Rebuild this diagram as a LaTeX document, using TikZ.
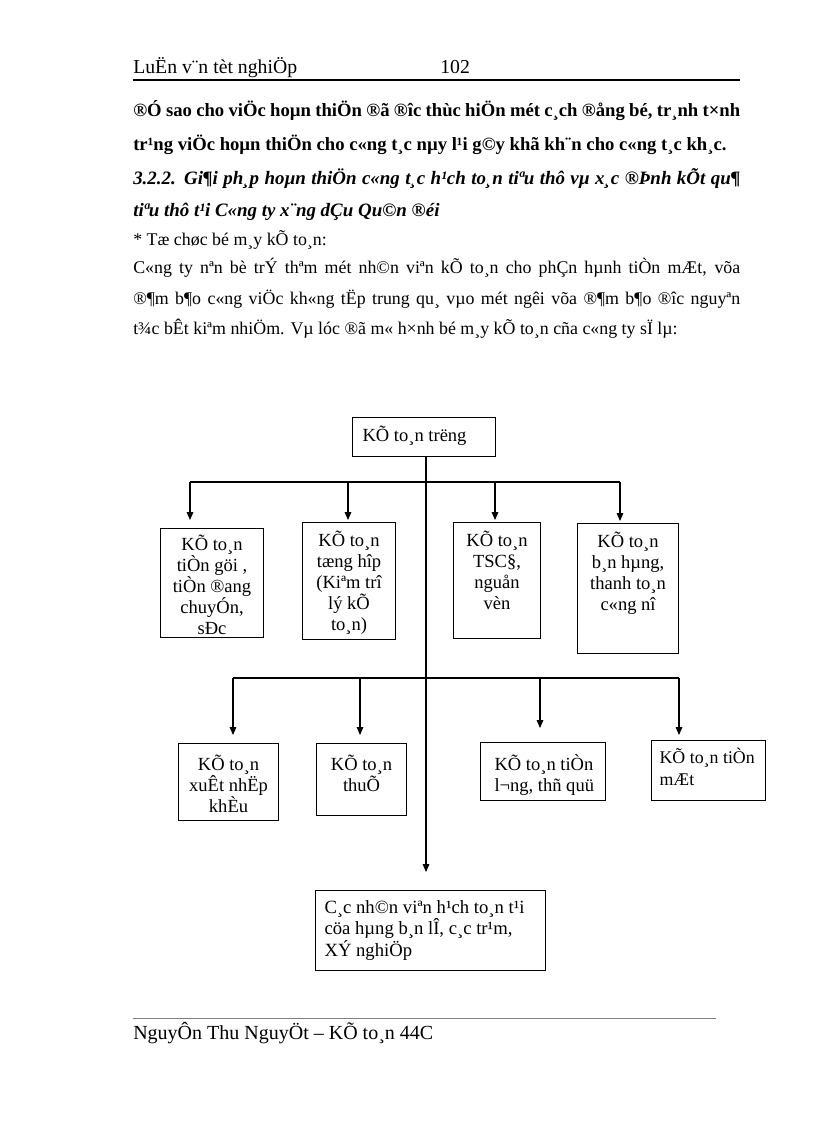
\documentclass[tikz,border=0pt]{standalone}
\usepackage{fontspec}
\setmainfont{Liberation Serif}
\usetikzlibrary{arrows.meta}
\newlength\pxu \setlength\pxu{0.75pt}
\newcommand\bxt[3]{\parbox[c][#2\pxu][t]{#1\pxu}{#3}}
\newcommand\jline[1]{\makebox[607\pxu][s]{#1}}
\tikzset{
  txt/.style={anchor=base west, inner sep=0pt, font=\fontsize{14.8}{17}\selectfont},
  bld/.style={anchor=base west, inner sep=0pt, font=\fontsize{14}{17}\selectfont\bfseries},
  hdg/.style={anchor=base west, inner sep=0pt, font=\fontsize{14.2}{17}\selectfont\bfseries\itshape},
  thin/.style={anchor=base west, inner sep=0pt, font=\fontsize{13.4}{16}\selectfont},
  bx/.style={draw, line width=0.8pt, inner sep=0pt, anchor=north west},
  bxf/.style={font=\fontsize{13.9}{15.75}\selectfont},
  ln/.style={line width=0.8pt},
  arr/.style={line width=0.8pt, -{Triangle[length=6pt,width=5pt]}}
}
\begin{document}
\begin{tikzpicture}[x=0.75pt,y=-0.75pt]
\fill[white] (0,0) rectangle (816,1123);
\useasboundingbox (0,0) rectangle (816,1123);
% header
\node[txt] (hd) at (133,74) {LuËn v¨n tèt nghiÖp};
\node[txt] (pg) at (440,74) {102};
\coordinate (hrl) at (133,80); \coordinate (hrr) at (740,80);
\draw[line width=1.5pt] (hrl) -- (hrr);
% body
\node[bld] (l1) at (133,117) {\jline{®Ó sao cho viÖc hoµn thiÖn ®ã ®îc  thùc hiÖn mét c¸ch ®ång  bé, tr¸nh t×nh}};
\node[bld] (l2) at (133,151) {tr¹ng viÖc hoµn thiÖn cho c«ng t¸c nµy l¹i g©y khã kh¨n cho c«ng t¸c kh¸c.};
\node[hdg] (h1) at (133,185) {\jline{3.2.2. Gi¶i ph¸p hoµn thiÖn c«ng t¸c h¹ch to¸n tiªu thô vµ x¸c ®Þnh kÕt qu¶}};
\node[hdg] (h2) at (133,217) {tiªu thô t¹i C«ng ty x¨ng dÇu Qu©n ®éi};
\node[thin] (st) at (133,245) {* Tæ  chøc bé m¸y kÕ to¸n:};
\node[thin] (p1) at (133,273) {\jline{C«ng  ty nªn bè trÝ thªm mét nh©n viªn kÕ to¸n  cho phÇn hµnh  tiÒn mÆt,  võa}};
\node[thin] (p2) at (133,304) {\jline{®¶m b¶o c«ng viÖc kh«ng  tËp trung qu¸ vµo  mét ngêi  võa ®¶m b¶o ®îc  nguyªn}};
\node[thin] (p3) at (133,334) {t¾c bÊt kiªm nhiÖm. Vµ lóc ®ã m« h×nh bé m¸y kÕ to¸n cña c«ng ty sÏ lµ:};
% diagram
\node[bx,bxf] (top) at (352,417) {\bxt{143}{39}{\vspace*{8\pxu}\hspace*{10\pxu}KÕ to¸n trëng}};
\node[bx,bxf] (k1) at (160,528) {\bxt{103}{109}{\centering\vspace*{6.5\pxu}KÕ to¸n\\ tiÒn göi ,\\ tiÒn ®ang\\ chuyÓn,\\ sÐc}};
\node[bx,bxf] (k2) at (302,522) {\bxt{93}{117}{\centering\vspace*{8.5\pxu}KÕ to¸n\\ tæng hîp\\ (Kiªm trî\\ lý kÕ\\ to¸n)}};
\node[bx,bxf] (k3) at (453,522) {\bxt{87}{116}{\centering\vspace*{8.5\pxu}KÕ to¸n\\ TSC§,\\ nguån\\ vèn}};
\node[bx,bxf] (k4) at (577,523) {\bxt{101}{130}{\centering\vspace*{8\pxu}KÕ to¸n\\ b¸n hµng,\\ thanh to¸n\\ c«ng nî}};
\node[bx,bxf] (k5) at (178,743) {\bxt{100}{77}{\centering\vspace*{11.5\pxu}KÕ to¸n\\ xuÊt nhËp\\ khÈu}};
\node[bx,bxf] (k6) at (316,743) {\bxt{90}{72}{\centering\vspace*{11.5\pxu}KÕ to¸n\\ thuÕ}};
\node[bx,bxf] (k7) at (480,742) {\bxt{125}{58}{\vspace*{12\pxu}\hspace*{14\pxu}KÕ to¸n  tiÒn\\ \hspace*{14\pxu}l¬ng,  thñ quü}};
\node[bx] (k8) at (651,740) {\bxt{114}{60}{\fontsize{13.4}{16}\selectfont\vspace*{8\pxu}\hspace*{8\pxu}KÕ to¸n tiÒn\\ \hspace*{8\pxu}mÆt}};
\node[bx,bxf] (kb) at (315,890) {\bxt{230}{80}{\fontsize{14}{15}\selectfont\vspace*{10\pxu}\hspace*{9\pxu}C¸c nh©n viªn h¹ch to¸n  t¹i\\ \hspace*{9\pxu}cöa hµng b¸n lÎ, c¸c tr¹m,\\ \hspace*{9\pxu}XÝ nghiÖp}};
% connectors
\coordinate (tr) at (426,0);
\draw[arr, shorten >=18\pxu] (top.south -| tr) -- (kb.north -| tr);
\coordinate (a1) at (190,482); \coordinate (a2) at (348,482);
\coordinate (a3) at (495,482); \coordinate (a4) at (620,482);
\draw[ln] (a1) -- (a4);
\draw[arr, shorten >=8\pxu] (a1) -- (a1 |- k1.north);
\draw[arr, shorten >=2\pxu] (a2) -- (a2 |- k2.north);
\draw[arr, shorten >=2\pxu] (a3) -- (a3 |- k3.north);
\draw[arr, shorten >=2\pxu] (a4) -- (a4 |- k4.north);
\coordinate (b1) at (233,678); \coordinate (b2) at (360,678);
\coordinate (b3) at (540,678); \coordinate (b4) at (679,678);
\draw[ln] (b1) -- (b4);
\draw[arr, shorten >=8\pxu] (b1) -- (b1 |- k5.north);
\draw[arr, shorten >=8\pxu] (b2) -- (b2 |- k6.north);
\draw[arr, shorten >=14\pxu] (b3) -- (b3 |- k7.north);
\draw[arr, shorten >=5\pxu] (b4) -- (b4 |- k8.north);
% footer
\coordinate (frl) at (133,1018); \coordinate (frr) at (716,1018);
\draw[line width=0.6pt, gray] (frl) -- (frr);
\node[txt, font=\fontsize{15}{17}\selectfont] (ft) at (133,1039) {NguyÔn  Thu NguyÖt  -- KÕ to¸n 44C};
\end{tikzpicture}
\end{document}
